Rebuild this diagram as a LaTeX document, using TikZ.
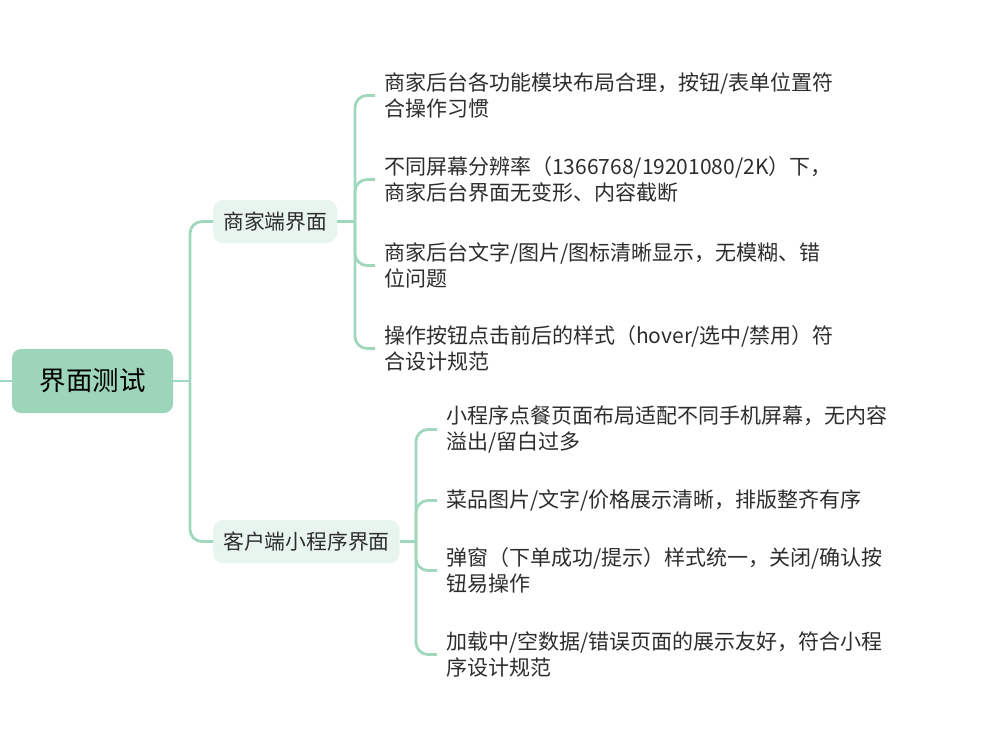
\documentclass[tikz,border=0pt]{standalone}
\usepackage{fontspec}
\setmainfont{Noto Sans CJK SC}
\usepackage{xcolor}
\usetikzlibrary{positioning}
\definecolor{rootfill}{RGB}{157,213,186}
\definecolor{branchfill}{RGB}{232,245,239}
\definecolor{linkgreen}{RGB}{160,216,190}
\definecolor{textgray}{RGB}{45,45,45}

\begin{document}
\begin{tikzpicture}[
    x=1pt,y=-1pt,
    font=\fontsize{20.8}{26.5}\selectfont,
    link/.style={line width=2.8pt,draw=linkgreen,rounded corners=12pt},
    rootbox/.style={fill=rootfill,rounded corners=9pt,minimum width=161pt,minimum height=64pt,font=\fontsize{26.5}{30}\selectfont},
    branchbox/.style={fill=branchfill,rounded corners=10pt,minimum height=43pt,inner xsep=10pt,text=textgray},
    leaf/.style={anchor=west,align=left,inner xsep=9pt,inner ysep=0pt,text=textgray,font=\fontsize{21}{26.5}\selectfont}
  ]
    \useasboundingbox (0,0) rectangle (981,741);
    \node[rootbox] (root) at (92.5,381) {界面测试};
    \node[branchbox,anchor=west] (shop) at (213,221.5) {商家端界面};
    \node[branchbox,anchor=west] (mini) at (213,541.5) {客户端小程序界面};
    \node[leaf] (s1) at (375,95.5) {商家后台各功能模块布局合理，按钮/表单位置符\\合操作习惯};
    \node[leaf] (s2) at (375,179.5) {不同屏幕分辨率（1366768/19201080/2K）下，\\商家后台界面无变形、内容截断};
    \node[leaf] (s3) at (375,265.5) {商家后台文字/图片/图标清晰显示，无模糊、错\\位问题};
    \node[leaf] (s4) at (375,348.5) {操作按钮点击前后的样式（hover/选中/禁用）符\\合设计规范};
    \node[leaf] (m1) at (437,429.5) {小程序点餐页面布局适配不同手机屏幕，无内容\\溢出/留白过多};
    \node[leaf] (m2) at (437,500.5) {菜品图片/文字/价格展示清晰，排版整齐有序};
    \node[leaf] (m3) at (437,570.5) {弹窗（下单成功/提示）样式统一，关闭/确认按\\钮易操作};
    \node[leaf] (m4) at (437,654.5) {加载中/空数据/错误页面的展示友好，符合小程\\序设计规范};
    % junctions
    \coordinate (stub) at (0,381);
    \coordinate (j0) at (190,381);
    \coordinate (j1) at (355,221.5);
    \coordinate (j2) at (416,541.5);
    \draw[link] (stub) -- (root.west);
    \draw[link] (root.east) -- (j0);
    \draw[link] (j0) |- (shop.west);
    \draw[link] (j0) |- (mini.west);
    \draw[link] (shop.east) -- (j1);
    \draw[link] (j1) |- (s1.west);
    \draw[link] (j1) |- (s2.west);
    \draw[link] (j1) |- (s3.west);
    \draw[link] (j1) |- (s4.west);
    \draw[link] (mini.east) -- (j2);
    \draw[link] (j2) |- (m1.west);
    \draw[link] (j2) |- (m2.west);
    \draw[link] (j2) |- (m3.west);
    \draw[link] (j2) |- (m4.west);
  \end{tikzpicture}
\end{document}
